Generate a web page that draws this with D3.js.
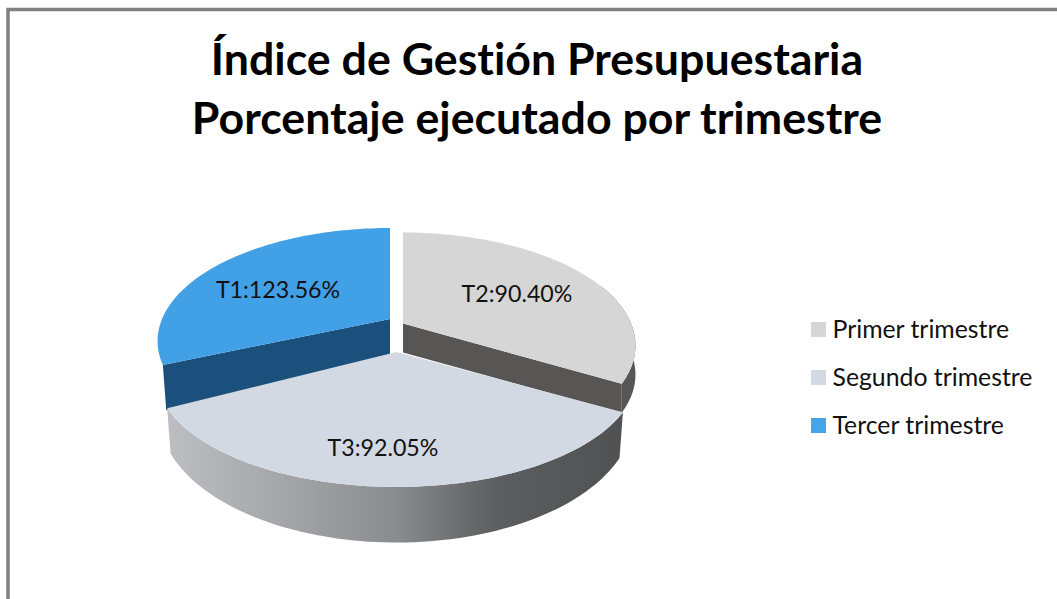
<!DOCTYPE html>
<html><head><meta charset="utf-8">
<script src="https://cdn.jsdelivr.net/npm/d3@7"></script>
<style>html,body{margin:0;padding:0;background:#fff}svg{display:block}text{font-family:Lato,"Open Sans",sans-serif;font-variant-ligatures:none}</style>
</head><body><svg id="c" width="1057" height="599"></svg>
<script>
// Data
const titleLines = ["Índice de Gestión Presupuestaria", "Porcentaje ejecutado por trimestre"];
const legendLabels = ["Primer trimestre", "Segundo trimestre", "Tercer trimestre"];
const legendColors = ["#d6d6d6", "#d2d9e2", "#45a5ea"];
const sliceNames = ["T2", "T3", "T1"];
const sliceLabels = ["T2:90.40%", "T3:92.05%", "T1:123.56%"];
// drawn share of each slice, in degrees
const sliceShares = [120, 122, 118];

const W = 1057, H = 599;
const svg = d3.select("#c");

// frame
svg.append("path").attr("d", `M8,${H}V9.5H${W}`).attr("fill", "none").attr("stroke", "#808080").attr("stroke-width", 3.5);

// title
svg.append("g").selectAll("text").data(titleLines).join("text")
  .attr("x", 537).attr("y", (d, i) => 75 + i * 59).attr("text-anchor", "middle")
  .attr("font-size", 44.7).attr("font-weight", 700).attr("fill", "#000").text(d => d);

// geometry of each slice's projection
const tilt = 0.1947;
const layout = {
  T2: {cx: 403, cy: 323.5, A: 228, B: 108.7, depth: 29, sx: 1, sy: 1, trim: 0, top: "#d6d6d6", side: "#585654"},
  T3: {cx: 396.5, cy: 352, A: 236, B: 108.7, depth: 38, sx: 0.985, sy: 1.13, trim: 0, top: "#d2d9e2", side: "url(#wall)"},
  T1: {cx: 390, cy: 319, A: 228, B: 108.7, depth: 36, sx: 0.985, sy: 1.2, trim: 5 * Math.PI / 180, top: "#42a0e6", side: "#1b4f7c"}
};

const pie = d3.pie().sort(null).value(d => d.share);
const arcs = pie(sliceNames.map((n, i) => ({name: n, label: sliceLabels[i], share: sliceShares[i]})));

function project(g, a, lower) {
  const u = Math.sin(a), v = -Math.cos(a), w = 1 - tilt * v;
  const fx = lower ? g.sx : 1, fy = lower ? g.sy : 1, dz = lower ? g.depth : 0;
  return [g.cx + fx * g.A * u / w, g.cy + dz + fy * g.B * v / w];
}
const line = d3.line();
const samples = (a0, a1) => d3.range(0, 81).map(i => a0 + (a1 - a0) * i / 80);

const defs = svg.append("defs");
const grad = defs.append("linearGradient").attr("id", "wall").attr("gradientUnits", "userSpaceOnUse")
  .attr("x1", 168).attr("x2", 622).attr("y1", 0).attr("y2", 0);
[[0, "#bcbec1"], [0.25, "#a4a6a9"], [0.5, "#8a8c8f"], [0.72, "#5c5e60"], [1, "#4f5153"]]
  .forEach(s => grad.append("stop").attr("offset", s[0]).attr("stop-color", s[1]));

const byName = Object.fromEntries(arcs.map(d => [d.data.name, d]));
const g = svg.append("g");

function topPath(name) {
  const a = byName[name], l = layout[name];
  const pts = samples(a.startAngle + l.trim, a.endAngle).map(t => project(l, t, false));
  return line([[l.cx, l.cy], ...pts]) + "Z";
}
function wallPath(name, a0, a1) {
  const l = layout[name];
  const upper = samples(a0, a1).map(t => project(l, t, false));
  const lower = samples(a1, a0).map(t => project(l, t, true));
  return line([...upper, ...lower]) + "Z";
}
function cutPath(name, a) {
  const l = layout[name];
  return line([[l.cx, l.cy], project(l, a, false), project(l, a, true), [l.cx, l.cy + l.depth]]) + "Z";
}

// T1 cut face
g.append("path").attr("d", cutPath("T1", byName.T1.startAngle + layout.T1.trim)).attr("fill", layout.T1.side);
// T2 walls
g.append("path").attr("d", wallPath("T2", byName.T2.endAngle - 0.9, byName.T2.endAngle)).attr("fill", layout.T2.side);
g.append("path").attr("d", cutPath("T2", byName.T2.endAngle)).attr("fill", layout.T2.side);
// tops
g.append("path").attr("d", topPath("T1")).attr("fill", layout.T1.top);
g.append("path").attr("d", topPath("T2")).attr("fill", layout.T2.top);
// T3
g.append("path").attr("d", wallPath("T3", byName.T3.startAngle, byName.T3.endAngle)).attr("fill", layout.T3.side);
g.append("path").attr("d", topPath("T3")).attr("fill", layout.T3.top);

// slice labels
const labelPos = {T2: [517, 302], T3: [383, 456], T1: [278, 298]};
svg.append("g").selectAll("text").data(arcs).join("text")
  .attr("x", d => labelPos[d.data.name][0]).attr("y", d => labelPos[d.data.name][1])
  .attr("text-anchor", "middle").attr("font-size", 23.2).attr("fill", "#111").text(d => d.data.label);

// legend
const ly = d3.scalePoint().domain(legendLabels).range([329.5, 425.5]);
const lg = svg.append("g").selectAll("g").data(legendLabels).join("g")
  .attr("transform", d => `translate(811,${ly(d)})`);
lg.append("rect").attr("x", 0).attr("y", -7.5).attr("width", 15).attr("height", 15).attr("fill", (d, i) => legendColors[i]);
lg.append("text").attr("x", 21.5).attr("y", 8.5).attr("font-size", 24.8).attr("fill", "#111").text(d => d);
</script></body></html>
